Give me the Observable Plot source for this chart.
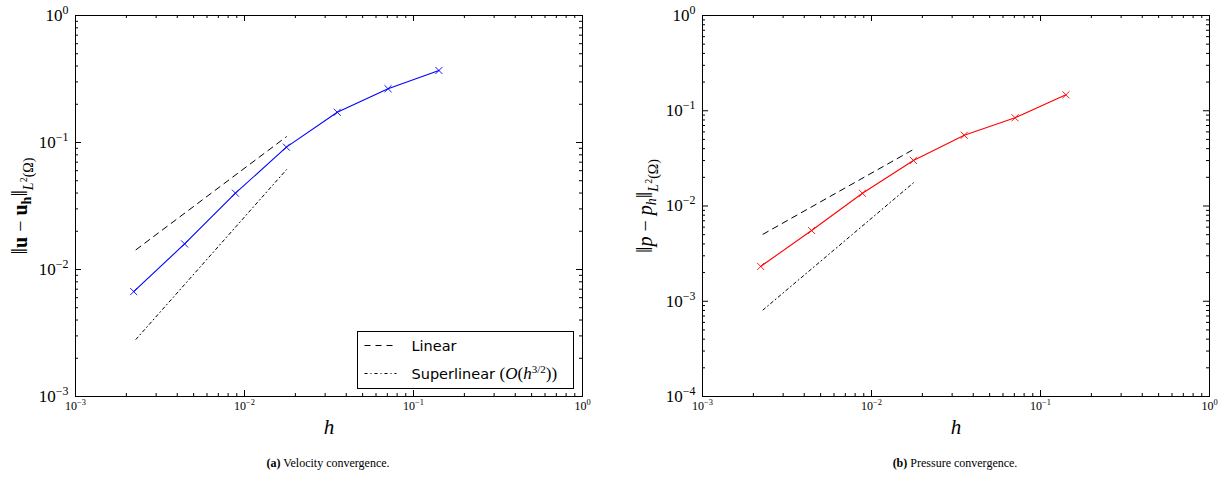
<!DOCTYPE html>
<html><head><meta charset="utf-8">
<script src="https://cdn.jsdelivr.net/npm/d3@7"></script>
<script src="https://cdn.jsdelivr.net/npm/@observablehq/plot@0.6"></script>
<style>
body{margin:0;background:#fff;}
#wrap{position:relative;width:1222px;height:486px;overflow:hidden;background:#fff;}
.panel{position:absolute;top:0;}
.cap{position:absolute;font-family:"Liberation Serif",serif;font-size:12px;color:#000;white-space:nowrap;transform:translate(-50%,-50%);}
</style></head><body>
<div id="wrap"></div>
<script>
// ---- data ----
const h = [0.00221, 0.00442, 0.00884, 0.0177, 0.0354, 0.0707, 0.1414];
const velocityError = [0.0067, 0.0159, 0.0399, 0.0919, 0.173, 0.265, 0.369];
const pressureError = [0.00232, 0.00553, 0.0136, 0.0301, 0.0553, 0.0843, 0.147];
const refH = [0.00228, 0.0177];
const velLinear = [0.0143, 0.111];
const velSuperlinear = [0.00282, 0.061];
const presLinear = [0.00505, 0.0392];
const presSuperlinear = [0.00081, 0.0175];
const xTicks = [1e-3, 1e-2, 1e-1, 1e0];
const yTicksVel = [1e-3, 1e-2, 1e-1, 1e0];
const yTicksPres = [1e-4, 1e-3, 1e-2, 1e-1, 1e0];
const legendLabels = ["Linear", "Superlinear"];
const captions = [["(a)", "Velocity convergence."], ["(b)", "Pressure convergence."]];

// ---- helpers ----
const SUP = {"-":"⁻","0":"⁰","1":"¹","2":"²","3":"³","4":"⁴","5":"⁵","6":"⁶","7":"⁷","8":"⁸","9":"⁹"};
const UNSUP = Object.fromEntries(Object.entries(SUP).map(([a,b]) => [b,a]));
const fmt = d => "10" + String(Math.round(Math.log10(d))).split("").map(c => SUP[c]).join("");
const minorOf = ticks => ticks.slice(0, -1).flatMap(t => d3.range(2, 10).map(k => t * k));
const SVGNS = "http://www.w3.org/2000/svg";
const W = 611, H = 445, MT = 15, MB = 49;
const FH = H - MT - MB;

function rich(textEl, parts) {
  textEl.textContent = "";
  let cur = 0;
  for (const p of parts) {
    const ts = document.createElementNS(SVGNS, "tspan");
    const shift = p.shift || 0;
    const dy = shift - cur; cur = shift;
    if (dy) ts.setAttribute("dy", dy);
    if (p.size) ts.setAttribute("font-size", p.size);
    if (p.bold) ts.setAttribute("font-weight", "bold");
    if (p.italic) ts.setAttribute("font-style", "italic");
    if (p.family) ts.setAttribute("font-family", p.family);
    ts.textContent = p.t;
    textEl.appendChild(ts);
  }
}

function fixTickLabels(svg) {
  svg.querySelectorAll("text").forEach(t => {
    const m = t.textContent.match(/^10([⁻⁰¹²³⁴⁵⁶⁷⁸⁹]+)$/);
    if (!m) return;
    const fs = parseFloat(getComputedStyle(t).fontSize) || 12;
    const exp = m[1].split("").map(c => UNSUP[c]).join("").replace("-", "−");
    rich(t, [{t: "10"}, {t: exp, size: fs * 0.7, shift: -fs * 0.42}]);
  });
}

function tickMarks(xt, yt, FW) {
  const c = {stroke: "#000", strokeWidth: 1};
  const xm = minorOf(xt), ym = minorOf(yt);
  const MJ = 6, MN = 3;
  return [
    Plot.tickX(xt, {...c, x: d => d, insetTop: FH - MJ}),
    Plot.tickX(xm, {...c, x: d => d, insetTop: FH - MN}),
    Plot.tickX(xt, {...c, x: d => d, insetBottom: FH - MJ}),
    Plot.tickX(xm, {...c, x: d => d, insetBottom: FH - MN}),
    Plot.tickY(yt, {...c, y: d => d, insetRight: FW - MJ}),
    Plot.tickY(ym, {...c, y: d => d, insetRight: FW - MN}),
    Plot.tickY(yt, {...c, y: d => d, insetLeft: FW - MJ}),
    Plot.tickY(ym, {...c, y: d => d, insetLeft: FW - MN})
  ];
}

const labelParts = (sym, symStyle) => [
  {t: "‖", size: 23}, {t: sym, ...symStyle}, {t: " − "}, {t: sym, ...symStyle},
  {t: "h", ...symStyle, size: 14, shift: 4}, {t: "‖", size: 23, shift: 0},
  {t: "L", italic: true, size: 14, shift: 6}, {t: "2", size: 10, shift: 0}, {t: "(Ω)", size: 14, shift: 6}
];

function panel({errors, linear, superlinear, color, yTicks, marginLeft, marginRight, yLabelText, yLabelDx}) {
  const FW = W - marginLeft - marginRight;
  return Plot.plot({
    width: W, height: H,
    marginTop: MT, marginBottom: MB, marginLeft, marginRight,
    style: {fontFamily: "'Liberation Serif', serif", background: "transparent", color: "#000", overflow: "visible"},
    x: {type: "log", domain: [xTicks[0], xTicks[xTicks.length - 1]], label: null},
    y: {type: "log", domain: [yTicks[0], yTicks[yTicks.length - 1]], label: null},
    marks: [
      Plot.line(linear, {x: (d, i) => refH[i], y: d => d, stroke: "black", strokeWidth: 1, strokeDasharray: "6,5"}),
      Plot.line(superlinear, {x: (d, i) => refH[i], y: d => d, stroke: "black", strokeWidth: 1, strokeDasharray: "3,3,1,3"}),
      Plot.line(errors, {x: (d, i) => h[i], y: d => d, stroke: color, strokeWidth: 1.1}),
      Plot.dot(errors, {x: (d, i) => h[i], y: d => d, symbol: "times", r: 3.3, stroke: color, strokeWidth: 0.9}),
      Plot.frame({stroke: "black", strokeWidth: 1}),
      ...tickMarks(xTicks, yTicks, FW),
      Plot.axisX(xTicks, {tickSize: 0, tickPadding: 5, tickFormat: fmt, fontSize: 12, label: null}),
      Plot.axisY(yTicks, {tickSize: 0, tickPadding: 7, tickFormat: fmt, fontSize: 17, label: null}),
      Plot.text(["h"], {frameAnchor: "bottom", dy: 31, lineAnchor: "middle", fontSize: 21, fontStyle: "italic"}),
      Plot.text([yLabelText], {frameAnchor: "left", dx: yLabelDx, rotate: -90, lineAnchor: "middle", textAnchor: "middle", fontSize: 20})
    ]
  });
}

const wrap = document.getElementById("wrap");

const left = panel({errors: velocityError, linear: velLinear, superlinear: velSuperlinear, color: "#0000ff",
  yTicks: yTicksVel, marginLeft: 75, marginRight: 29, yLabelText: "‖u − uh‖L2(Ω)", yLabelDx: -55});
const right = panel({errors: pressureError, linear: presLinear, superlinear: presSuperlinear, color: "#ff0000",
  yTicks: yTicksPres, marginLeft: 91, marginRight: 13, yLabelText: "‖p − ph‖L2(Ω)", yLabelDx: -57});

left.classList.add("panel"); left.style.left = "0px";
right.classList.add("panel"); right.style.left = "611px";
wrap.appendChild(left); wrap.appendChild(right);

fixTickLabels(left); fixTickLabels(right);

left.querySelectorAll("text").forEach(t => {
  if (t.textContent === "‖u − uh‖L2(Ω)") rich(t, labelParts("u", {bold: true}));
});
right.querySelectorAll("text").forEach(t => {
  if (t.textContent === "‖p − ph‖L2(Ω)") rich(t, labelParts("p", {italic: true}));
});

// legend (inside left panel)
const lg = d3.select(left).append("g").attr("transform", "translate(357.5,331.5)");
lg.append("rect").attr("width", 216).attr("height", 57).attr("fill", "white").attr("stroke", "black").attr("stroke-width", 1);
const dashes = ["6,5", "3,3,1,3"];
legendLabels.forEach((lab, i) => {
  const y = 14 + i * 28;
  lg.append("line").attr("x1", 7).attr("x2", 39).attr("y1", y).attr("y2", y)
    .attr("stroke", "black").attr("stroke-width", 1).attr("stroke-dasharray", dashes[i]);
  const t = lg.append("text").attr("x", 54).attr("y", y).attr("dy", "0.36em")
    .attr("text-anchor", "start")
    .attr("font-family", "'DejaVu Sans', sans-serif").attr("font-size", 14.5).text(lab);
  if (i === 1) {
    const S = "'Liberation Serif', serif";
    rich(t.node(), [
      {t: lab + " "}, {t: "(", family: S, size: 17}, {t: "O", family: S, italic: true, size: 17},
      {t: "(", family: S, size: 17}, {t: "h", family: S, italic: true, size: 17},
      {t: "3/2", family: S, size: 11, shift: -6}, {t: "))", family: S, size: 17}
    ]);
  }
});

// captions
[[328, 463], [955, 463]].forEach(([cx, cy], i) => {
  const d = document.createElement("div");
  d.className = "cap";
  d.style.left = cx + "px"; d.style.top = cy + "px";
  d.innerHTML = `<b>${captions[i][0]}</b> ${captions[i][1]}`;
  wrap.appendChild(d);
});
</script>
</body></html>
